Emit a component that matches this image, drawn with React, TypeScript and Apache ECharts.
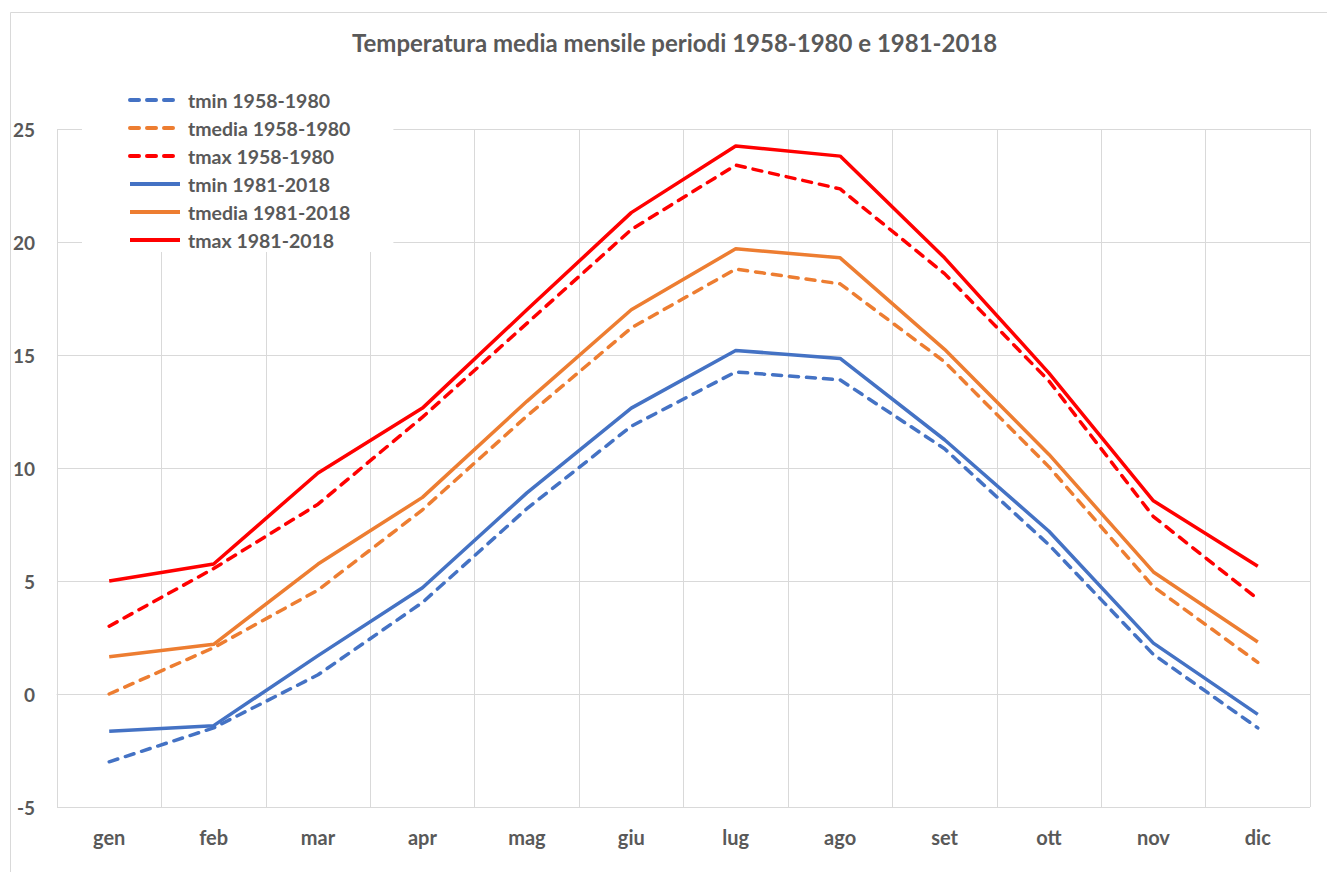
import React, { useEffect, useRef } from "react";
import * as echarts from "echarts";

const months = ["gen", "feb", "mar", "apr", "mag", "giu", "lug", "ago", "set", "ott", "nov", "dic"];

const tmin5880 = [-3.0, -1.5, 0.85, 4.05, 8.2, 11.85, 14.25, 13.9, 10.85, 6.6, 1.75, -1.5];
const tmedia5880 = [0.0, 2.05, 4.6, 8.15, 12.3, 16.2, 18.8, 18.15, 14.7, 10.05, 4.75, 1.4];
const tmax5880 = [3.0, 5.55, 8.4, 12.25, 16.4, 20.55, 23.4, 22.35, 18.6, 13.85, 7.85, 4.2];
const tmin8118 = [-1.65, -1.4, 1.7, 4.7, 8.9, 12.65, 15.2, 14.85, 11.25, 7.2, 2.25, -0.9];
const tmedia8118 = [1.65, 2.2, 5.75, 8.7, 12.95, 17.0, 19.7, 19.3, 15.25, 10.6, 5.4, 2.3];
const tmax8118 = [5.0, 5.75, 9.78, 12.65, 17.0, 21.3, 24.25, 23.8, 19.3, 14.2, 8.55, 5.65];

const BLUE = "#4472C4";
const ORANGE = "#ED7D31";
const RED = "#FF0000";
const TEXT = "#595959";
const GRID = "#D9D9D9";
const FONT = "Lato";

const seriesDefs = [
  { name: "tmin 1958-1980", data: tmin5880, color: BLUE, dashed: true },
  { name: "tmedia 1958-1980", data: tmedia5880, color: ORANGE, dashed: true },
  { name: "tmax 1958-1980", data: tmax5880, color: RED, dashed: true },
  { name: "tmin 1981-2018", data: tmin8118, color: BLUE, dashed: false },
  { name: "tmedia 1981-2018", data: tmedia8118, color: ORANGE, dashed: false },
  { name: "tmax 1981-2018", data: tmax8118, color: RED, dashed: false },
];

export default function App() {
  const ref = useRef<HTMLDivElement>(null);
  useEffect(() => {
    document.body.style.margin = "0";
    if (!ref.current) return;
    const chart = echarts.init(ref.current, null, { renderer: "svg" });
    chart.setOption({
      animation: false,
      backgroundColor: "#ffffff",
      textStyle: { fontFamily: FONT },
      title: {
        text: "Temperatura media mensile periodi 1958-1980 e 1981-2018",
        left: 347,
        top: 25,
        textStyle: { fontFamily: FONT, fontSize: 24, fontWeight: "bold", color: TEXT },
      },
      graphic: [
        {
          type: "rect",
          shape: { x: 10.5, y: 12.5, width: 1330, height: 880 },
          style: { fill: "none", stroke: GRID, lineWidth: 1 },
          z: -1,
          silent: true,
        },
      ],
      legend: {
        orient: "vertical",
        left: 82,
        top: 84,
        padding: [6, 43, 2, 46],
        backgroundColor: "#ffffff",
        itemWidth: 50,
        itemHeight: 14,
        itemGap: 8,
        z: 10,
        itemStyle: { opacity: 0, borderWidth: 0 },
        lineStyle: { width: 4 },
        textStyle: { fontFamily: FONT, fontSize: 19.5, fontWeight: "bold", color: TEXT, padding: [0, 0, 0, 3] },
        data: seriesDefs.map((s) => s.name),
      },
      grid: { left: 57, right: 17, top: 129, bottom: 65, containLabel: false },
      xAxis: {
        type: "category",
        data: months,
        boundaryGap: true,
        axisLine: { show: true, lineStyle: { color: GRID, width: 1 } },
        axisTick: { show: false },
        splitLine: { show: true, lineStyle: { color: GRID, width: 1 } },
        axisLabel: { fontFamily: FONT, fontSize: 20, fontWeight: "bold", color: TEXT, margin: 20 },
      },
      yAxis: {
        type: "value",
        min: -5,
        max: 25,
        interval: 5,
        axisLine: { show: false },
        axisTick: { show: false },
        splitLine: { show: true, lineStyle: { color: GRID, width: 1 } },
        axisLabel: { fontFamily: FONT, fontSize: 19, fontWeight: "bold", color: TEXT, margin: 22 },
      },
      series: seriesDefs.map((s) => ({
        name: s.name,
        type: "line",
        data: s.data,
        symbol: "none",
        showSymbol: false,
        color: s.color,
        itemStyle: { color: s.color },
        lineStyle: {
          color: s.color,
          width: 3.5,
          type: s.dashed ? [9, 8] : "solid",
          cap: s.dashed ? "round" : "butt",
          join: "round",
        },
      })),
    });
    return () => chart.dispose();
  }, []);
  return <div ref={ref} style={{ width: 1327, height: 872 }} />;
}
